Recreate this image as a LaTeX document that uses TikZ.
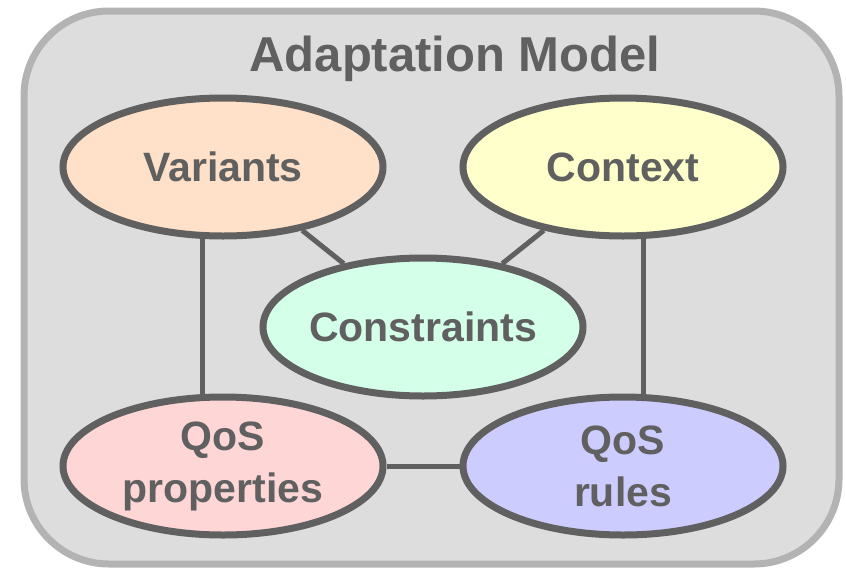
\documentclass[tikz,border=0pt]{standalone}
\usepackage{fontspec}
\setmainfont{Liberation Sans}
\usetikzlibrary{shapes.geometric}
\definecolor{gristrait}{HTML}{606060}
\definecolor{grisbord}{HTML}{B3B3B3}
\definecolor{grisfond}{HTML}{DDDDDD}
\definecolor{peche}{HTML}{FFE0C8}
\definecolor{jaunepale}{HTML}{FFFFCC}
\definecolor{vertpale}{HTML}{D4FFE8}
\definecolor{rosepale}{HTML}{FFD6D6}
\definecolor{mauvepale}{HTML}{CCCCFF}
\begin{document}
\begin{tikzpicture}[x=1pt,y=-1pt]
	\tikzstyle{cadre}=[draw=grisbord,fill=grisfond,line width=7pt,rounded corners=85pt]
	\tikzstyle{titre}=[anchor=base,text=gristrait,font=\fontsize{49}{56}\selectfont\bfseries]
	\tikzstyle{bulle}=[ellipse,draw=gristrait,line width=7pt,minimum width=320pt,minimum height=138pt,inner xsep=-10pt,inner ysep=0pt,align=center,text=gristrait,font=\fontsize{41}{52}\selectfont\bfseries]
	\tikzstyle{lien}=[draw=gristrait,line width=5pt]
	\def\ColonneA{223}
	\def\ColonneB{623}
	\def\Milieu{423}
	\def\NiveauA{167}
	\def\NiveauB{327}
	\def\NiveauC{466}
	\useasboundingbox (0,0) rectangle (846,568);
	% cadre du modele
	\path[cadre] (24,11) rectangle (839,564);
	\node[titre] (T) at (455,71.5) {Adaptation Model};
	% les cinq bulles
	\node[bulle,fill=peche] (V) at ({\ColonneA},{\NiveauA}) {Variants};
	\node[bulle,fill=jaunepale] (Ctx) at ({\ColonneB},{\NiveauA}) {Context};
	\node[bulle,fill=vertpale] (Cst) at ({\Milieu},{\NiveauB}) {Constraints};
	\node[bulle,fill=rosepale] (QP) at ({\ColonneA},{\NiveauC}) {QoS\\properties};
	\node[bulle,fill=mauvepale] (QR) at ({\ColonneB},{\NiveauC}) {QoS\\rules};
	% liens
	\draw[lien] (V)--(Cst);
	\draw[lien] (Ctx)--(Cst);
	\draw[lien] (V.-106)--(QP.106);
	\draw[lien] (Ctx.-74)--(QR.74);
	\draw[lien] (QP)--(QR);
\end{tikzpicture}
\end{document}
